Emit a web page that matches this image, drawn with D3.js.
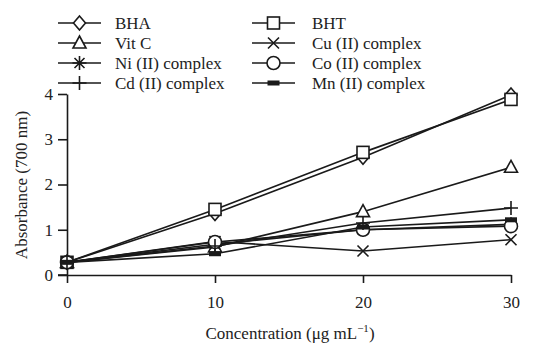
<!DOCTYPE html>
<html>
<head>
<meta charset="utf-8">
<script src="https://cdn.jsdelivr.net/npm/d3@7"></script>
<style>
  body { margin: 0; background: #fff; }
  svg text { font-family: "Liberation Serif", "DejaVu Serif", serif; fill: #222; }
</style>
</head>
<body>
<svg id="chart" width="547" height="346"></svg>
<script>
// data
const concentrations = [0, 10, 20, 30];
const yTicks = [0, 1, 2, 3, 4];
const seriesNames = ["BHA", "BHT", "Vit C", "Cu (II) complex", "Ni (II) complex", "Co (II) complex", "Cd (II) complex", "Mn (II) complex"];
const bha  = [0.28, 1.36, 2.60, 3.98];
const bht  = [0.28, 1.45, 2.71, 3.88];
const vitC = [0.28, 0.62, 1.40, 2.38];
const cu   = [0.28, 0.74, 0.53, 0.78];
const ni   = [0.28, 0.68, 1.00, 1.12];
const co   = [0.28, 0.73, 1.00, 1.08];
const cd   = [0.28, 0.64, 1.15, 1.48];
const mn   = [0.28, 0.47, 1.06, 1.22];
const markers = ["diamond", "square", "triangle", "cross", "asterisk", "circle", "plus", "bar"];

const allValues = [bha, bht, vitC, cu, ni, co, cd, mn];

const svg = d3.select("#chart");
const x = d3.scaleLinear().domain([0, 30]).range([67, 511]);
const y = d3.scaleLinear().domain([0, 4]).range([275, 94]);

const ink = "#1a1a1a";
const fontSize = "17px";

// axes
const xAxis = svg.append("g")
  .attr("transform", "translate(0,275)")
  .call(d3.axisBottom(x).tickValues(concentrations).tickFormat(d3.format("d"))
    .tickSize(8).tickSizeOuter(0).tickPadding(13));
const yAxis = svg.append("g")
  .attr("transform", "translate(67,0)")
  .call(d3.axisLeft(y).tickValues(yTicks).tickFormat(d3.format("d"))
    .tickSize(9).tickSizeOuter(0).tickPadding(5));

[xAxis, yAxis].forEach(g => {
  g.selectAll("path, line").attr("stroke", ink).attr("stroke-width", 1.6);
  g.selectAll("text").style("font-size", fontSize).attr("fill", "#222")
    .style("font-family", '"Liberation Serif", serif');
});
// little overhang of the x axis to the left of the y axis
svg.append("line").attr("x1", 58).attr("x2", 67).attr("y1", 275).attr("y2", 275)
  .attr("stroke", ink).attr("stroke-width", 1.6);

svg.append("text")
  .attr("transform", "translate(27,185) rotate(-90)")
  .attr("text-anchor", "middle")
  .style("font-size", fontSize)
  .text("Absorbance (700 nm)");

const xt = svg.append("text")
  .attr("x", 290).attr("y", 339)
  .attr("text-anchor", "middle")
  .style("font-size", fontSize);
xt.append("tspan").text("Concentration (\u03bcg mL");
xt.append("tspan").attr("dy", -7).style("font-size", "11px").text("\u22121");
xt.append("tspan").attr("dy", 7).text(")");

// marker drawing
function drawMarker(g, type, cx, cy) {
  const s = 6;
  const st = { stroke: ink, "stroke-width": 1.6 };
  const apply = sel => { Object.entries(st).forEach(([k, v]) => sel.attr(k, v)); return sel; };
  if (type === "diamond") {
    apply(g.append("path").attr("d", `M${cx},${cy - 7}L${cx + 6},${cy}L${cx},${cy + 7}L${cx - 6},${cy}Z`).attr("fill", "#fff"));
  } else if (type === "square") {
    apply(g.append("rect").attr("x", cx - s).attr("y", cy - s).attr("width", 2 * s).attr("height", 2 * s).attr("fill", "#fff"));
  } else if (type === "triangle") {
    apply(g.append("path").attr("d", `M${cx},${cy - 7}L${cx + 6.5},${cy + 5}L${cx - 6.5},${cy + 5}Z`).attr("fill", "#fff"));
  } else if (type === "cross") {
    apply(g.append("path").attr("d", `M${cx - 5.5},${cy - 5.5}L${cx + 5.5},${cy + 5.5}M${cx - 5.5},${cy + 5.5}L${cx + 5.5},${cy - 5.5}`).attr("fill", "none"));
  } else if (type === "asterisk") {
    apply(g.append("path").attr("d", `M${cx - 5},${cy - 5}L${cx + 5},${cy + 5}M${cx - 5},${cy + 5}L${cx + 5},${cy - 5}M${cx},${cy - 7}L${cx},${cy + 7}M${cx - 7},${cy}L${cx + 7},${cy}`).attr("fill", "none"));
  } else if (type === "circle") {
    apply(g.append("circle").attr("cx", cx).attr("cy", cy).attr("r", 6.5).attr("fill", "#fff"));
  } else if (type === "plus") {
    apply(g.append("path").attr("d", `M${cx},${cy - 7}L${cx},${cy + 7}M${cx - 7},${cy}L${cx + 7},${cy}`).attr("fill", "none"));
  } else if (type === "bar") {
    g.append("rect").attr("x", cx - 6).attr("y", cy - 2.5).attr("width", 12).attr("height", 5).attr("fill", ink);
  }
}

const line = d3.line().x((d, i) => x(concentrations[i])).y(d => y(d));

// lines first, markers on top
const plot = svg.append("g");
allValues.forEach(vals => {
  plot.append("path").datum(vals).attr("d", line)
    .attr("fill", "none").attr("stroke", ink).attr("stroke-width", 1.6);
});
allValues.forEach((vals, k) => {
  const g = plot.append("g");
  vals.forEach((v, i) => drawMarker(g, markers[k], x(concentrations[i]), y(v)));
});

// legend: two columns, four rows
const legend = svg.append("g");
seriesNames.forEach((name, k) => {
  const col = k % 2, row = Math.floor(k / 2);
  const lx = col === 0 ? 58 : 252;
  const ly = 23 + row * 20;
  const g = legend.append("g");
  g.append("line").attr("x1", lx).attr("x2", lx + 43).attr("y1", ly).attr("y2", ly)
    .attr("stroke", ink).attr("stroke-width", 1.6);
  drawMarker(g, markers[k], lx + 21.5, ly);
  g.append("text").attr("x", lx + (col === 0 ? 57 : 60)).attr("y", ly + 5.5)
    .style("font-size", fontSize).text(name);
});
</script>
</body>
</html>
